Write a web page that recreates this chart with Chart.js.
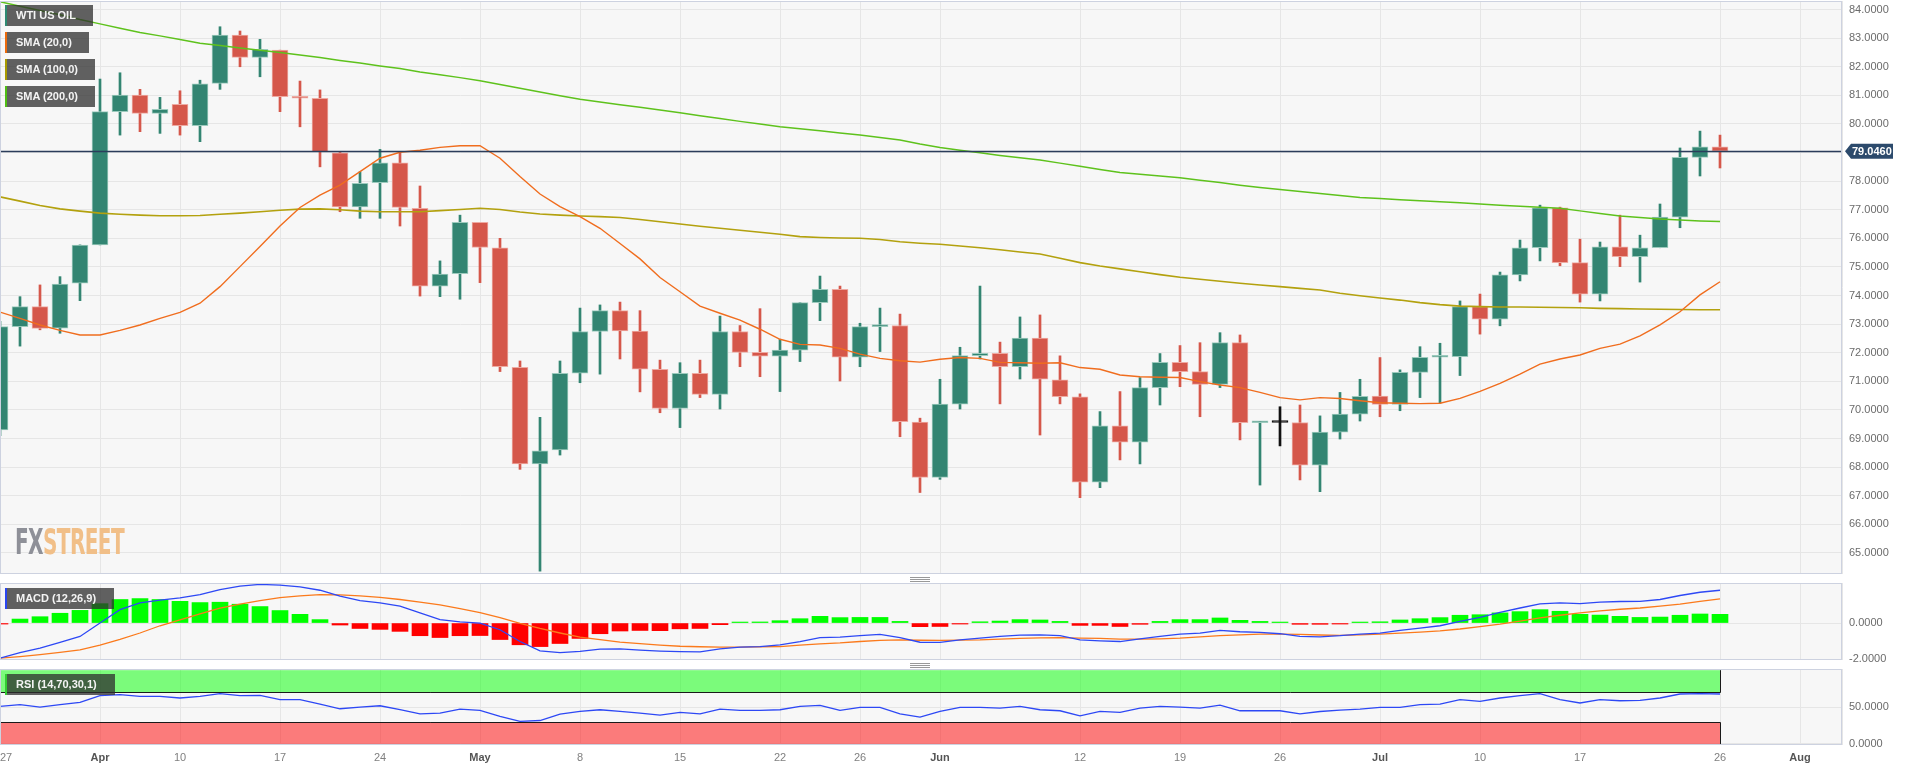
<!DOCTYPE html>
<html>
<head>
<meta charset="utf-8">
<title>WTI US OIL</title>
<script src="https://cdn.jsdelivr.net/npm/chart.js@4.4.1/dist/chart.umd.min.js"></script>
<style>
  html, body { margin:0; padding:0; background:#ffffff; }
  body { width:1918px; height:771px; position:relative; overflow:hidden; font-family:"Liberation Sans", Arial, sans-serif; }
  canvas { position:absolute; left:0; }
  #mainCanvas { top:0; }
  #macdCanvas { top:583px; }
  #rsiCanvas { top:669px; }
  .lbl { position:absolute; left:5px; height:21px; box-sizing:border-box; padding-left:9px; background:rgba(45,45,45,0.75);
         color:#f4f4f4; font-weight:bold; font-size:11px; line-height:21px; white-space:nowrap; border-left:2px solid #888; }
  .handle { position:absolute; left:910px; width:20px; height:3px; border-top:1px solid #999; border-bottom:1px solid #999; }
  .handle::after { content:""; position:absolute; left:0; right:0; top:1px; border-top:1px solid #999; }
  #logo { position:absolute; left:15px; top:524px; font-family:"DejaVu Sans Condensed","DejaVu Sans",sans-serif; font-weight:bold;
          font-size:36px; line-height:36px; white-space:nowrap; transform-origin:0 0; letter-spacing:-1px; }
</style>
</head>
<body>
<canvas id="mainCanvas" width="1918" height="575"></canvas>
<canvas id="macdCanvas" width="1918" height="86"></canvas>
<canvas id="rsiCanvas" width="1918" height="102"></canvas>

<div class="lbl" style="top:5px;width:88px;border-left-color:#2e8a72">WTI US OIL</div>
<div class="lbl" style="top:32px;width:84px;border-left-color:#ec6a0c">SMA (20,0)</div>
<div class="lbl" style="top:59px;width:90px;border-left-color:#a89a00">SMA (100,0)</div>
<div class="lbl" style="top:86px;width:90px;border-left-color:#4fbd14">SMA (200,0)</div>
<div class="lbl" style="top:588px;width:109px;border-left-color:#2a46f0">MACD (12,26,9)</div>
<div class="lbl" style="top:674px;width:110px;border-left-color:#33cc33">RSI (14,70,30,1)</div>
<div class="handle" style="top:577px"></div>
<div class="handle" style="top:663px"></div>
<div id="logo"><span style="color:#8e9098">FX</span><span style="color:#f1bf88">STREET</span></div>

<script>
// ---------------- DATA (trading-day index 0 = Mar 27) ----------------
const open  = [69.30,72.91,73.61,72.86,74.43,75.77,80.43,81.01,80.37,80.69,79.94,81.42,83.11,82.33,82.58,80.97,80.90,78.99,77.10,77.95,
               78.64,77.05,74.33,74.76,76.56,75.67,71.49,68.11,68.60,71.28,72.74,73.47,72.76,71.42,70.05,71.28,70.54,72.74,72.01,71.88,
               72.09,73.75,74.22,71.84,72.91,72.95,69.57,67.64,70.20,71.90,71.98,71.51,72.51,71.05,70.46,67.47,69.44,68.87,70.78,71.66,
               71.34,70.89,72.35,69.55,69.56,69.56,68.07,69.22,69.85,70.48,70.19,71.31,71.84,71.86,73.61,73.17,74.72,75.67,77.07,75.15,
               74.05,75.70,75.36,75.67,76.74,78.83,79.20];
const high  = [73.10,73.96,74.37,74.66,75.77,81.57,81.79,81.21,80.93,81.16,81.53,83.40,83.25,82.96,82.58,81.50,81.19,79.03,78.33,79.11,
               79.03,77.83,75.21,76.81,76.56,76.00,71.71,69.74,71.71,73.56,73.67,73.77,73.47,71.74,71.65,71.74,73.28,72.95,73.54,72.47,
               73.75,74.68,74.33,73.03,73.56,73.35,69.71,71.07,72.19,74.33,72.37,73.25,73.32,71.89,70.56,69.94,70.64,71.13,71.97,72.25,
               72.35,72.70,72.62,69.58,70.11,70.17,69.79,70.61,71.07,71.83,71.40,72.21,72.33,73.81,74.05,74.82,75.94,77.16,77.09,75.97,
               75.87,76.81,76.11,77.20,79.16,79.75,79.61];
const low   = [69.10,72.23,72.80,72.68,73.82,75.77,79.61,79.73,79.67,79.61,79.38,81.21,82.00,81.65,80.43,79.90,78.50,76.93,76.70,76.70,
               76.43,73.98,73.96,73.87,74.45,71.34,67.92,64.36,68.42,70.95,71.25,71.78,70.63,69.90,69.38,70.43,70.03,71.51,71.16,70.64,
               71.69,73.12,71.01,71.51,72.04,69.06,67.11,67.57,70.03,71.78,70.21,71.08,69.12,70.21,66.93,67.28,68.25,68.11,70.17,70.81,
               69.76,70.78,68.95,67.37,68.74,67.55,67.14,68.98,69.61,69.76,69.97,70.43,70.23,71.20,72.65,72.94,74.51,75.21,75.04,73.77,
               73.81,75.01,74.47,75.67,76.37,78.18,78.46];
const close = [72.91,73.61,72.85,74.40,75.76,80.43,81.01,80.37,80.51,79.94,81.40,83.11,82.33,82.61,80.95,80.90,79.03,77.10,77.92,78.64,
               77.08,74.33,74.75,76.56,75.68,71.51,68.11,68.57,71.28,72.74,73.47,72.76,71.42,70.05,71.28,70.54,72.74,72.01,71.88,72.09,
               73.75,74.22,71.84,72.91,72.96,69.59,67.64,70.20,71.90,71.98,71.51,72.51,71.07,70.46,67.47,69.44,68.87,70.78,71.66,71.34,
               70.89,72.35,69.55,69.57,69.56,68.07,69.22,69.85,70.47,70.19,71.31,71.84,71.86,73.61,73.17,74.72,75.67,77.07,75.15,74.05,
               75.70,75.36,75.67,76.74,78.83,79.20,79.046];

const sma20  = [73.42,73.20,72.97,72.78,72.62,72.62,72.78,72.97,73.20,73.41,73.73,74.31,75.01,75.71,76.43,77.08,77.51,77.86,78.33,78.80,
                79.01,79.08,79.18,79.24,79.24,78.80,78.16,77.55,77.11,76.76,76.35,75.82,75.28,74.63,74.13,73.63,73.38,73.14,72.82,72.47,
                72.29,72.27,72.15,71.95,71.80,71.72,71.67,71.77,71.83,71.80,71.66,71.65,71.63,71.65,71.48,71.42,71.22,71.16,71.14,71.13,
                70.99,70.87,70.78,70.61,70.43,70.35,70.43,70.40,70.32,70.25,70.23,70.22,70.23,70.40,70.65,70.93,71.25,71.60,71.78,71.92,
                72.15,72.30,72.59,72.97,73.43,74.02,74.48];
const sma100 = [77.45,77.30,77.15,77.03,76.95,76.88,76.84,76.81,76.79,76.79,76.80,76.84,76.88,76.93,76.98,77.02,77.03,77.00,76.95,76.93,
                76.93,76.93,76.97,77.01,77.05,77.01,76.92,76.85,76.81,76.78,76.76,76.73,76.66,76.58,76.50,76.42,76.35,76.28,76.21,76.14,
                76.06,76.03,76.01,76.00,75.96,75.88,75.83,75.79,75.73,75.67,75.60,75.52,75.45,75.30,75.15,75.03,74.93,74.83,74.73,74.64,
                74.57,74.50,74.43,74.37,74.31,74.25,74.19,74.08,73.99,73.91,73.84,73.75,73.68,73.63,73.61,73.60,73.60,73.59,73.58,73.57,
                73.55,73.54,73.53,73.52,73.51,73.50,73.50];
const sma200 = [84.27,84.12,83.97,83.82,83.65,83.50,83.35,83.20,83.08,82.95,82.82,82.74,82.66,82.58,82.50,82.41,82.32,82.22,82.13,82.03,
                81.94,81.82,81.72,81.62,81.51,81.38,81.25,81.12,80.99,80.86,80.77,80.67,80.58,80.49,80.39,80.29,80.19,80.09,80.00,79.90,
                79.83,79.76,79.68,79.61,79.53,79.44,79.30,79.18,79.08,78.99,78.90,78.82,78.74,78.63,78.52,78.41,78.30,78.24,78.18,78.12,
                78.03,77.95,77.86,77.78,77.71,77.64,77.57,77.50,77.43,77.39,77.35,77.31,77.28,77.24,77.20,77.16,77.12,77.09,77.05,76.96,
                76.87,76.78,76.73,76.68,76.64,76.61,76.59];

const macdLine   = [-1.94,-1.63,-1.39,-1.07,-0.74,0.00,0.74,1.11,1.26,1.39,1.57,1.85,2.04,2.13,2.09,2.00,1.81,1.48,1.24,1.11,
                    0.93,0.56,0.19,0.06,0.00,-0.37,-1.02,-1.54,-1.63,-1.56,-1.44,-1.43,-1.50,-1.55,-1.58,-1.59,-1.43,-1.33,-1.30,-1.20,
                    -1.02,-0.80,-0.78,-0.70,-0.63,-0.80,-1.06,-1.07,-0.93,-0.83,-0.74,-0.67,-0.65,-0.70,-0.93,-0.98,-1.02,-0.87,-0.74,-0.61,
                    -0.56,-0.41,-0.48,-0.52,-0.59,-0.74,-0.76,-0.70,-0.61,-0.56,-0.41,-0.28,-0.15,0.09,0.31,0.59,0.83,1.06,1.11,1.07,
                    1.15,1.19,1.20,1.30,1.52,1.70,1.81];
const signalLine = [-1.94,-1.85,-1.74,-1.62,-1.48,-1.22,-0.90,-0.55,-0.15,0.18,0.50,0.82,1.05,1.24,1.40,1.50,1.57,1.56,1.50,1.42,
                    1.30,1.16,1.00,0.80,0.58,0.30,-0.02,-0.30,-0.55,-0.78,-0.92,-1.05,-1.14,-1.22,-1.28,-1.31,-1.33,-1.33,-1.31,-1.30,
                    -1.22,-1.15,-1.10,-1.02,-0.96,-0.93,-0.95,-0.96,-0.94,-0.93,-0.89,-0.85,-0.82,-0.80,-0.83,-0.85,-0.89,-0.89,-0.87,-0.83,
                    -0.76,-0.70,-0.65,-0.61,-0.61,-0.63,-0.66,-0.68,-0.65,-0.61,-0.56,-0.50,-0.43,-0.33,-0.20,-0.06,0.11,0.28,0.43,0.56,
                    0.67,0.76,0.83,0.93,1.04,1.20,1.33];
const macdHist   = [-0.05,0.22,0.35,0.54,0.70,1.07,1.30,1.35,1.30,1.20,1.13,1.15,1.04,0.91,0.69,0.48,0.19,-0.11,-0.30,-0.35,
                    -0.46,-0.70,-0.80,-0.70,-0.69,-0.91,-1.20,-1.30,-1.13,-0.85,-0.59,-0.44,-0.41,-0.42,-0.32,-0.30,-0.09,0.01,0.06,0.13,
                    0.24,0.37,0.30,0.31,0.31,0.09,-0.20,-0.19,-0.03,0.07,0.11,0.19,0.17,0.09,-0.13,-0.13,-0.19,-0.07,0.09,0.19,
                    0.19,0.28,0.15,0.09,0.04,-0.07,-0.07,-0.03,0.04,0.07,0.17,0.24,0.30,0.43,0.46,0.56,0.63,0.74,0.65,0.48,
                    0.44,0.37,0.31,0.33,0.43,0.50,0.48];
const rsi = [50.9,53.2,50.0,53.2,56.4,65.5,66.8,64.5,64.5,62.3,64.5,68.2,65.5,65.9,60.0,60.0,54.1,47.7,50.0,51.8,
             46.4,40.9,41.8,47.3,45.5,37.3,30.5,31.8,40.5,44.1,46.4,44.1,41.8,39.0,42.7,40.9,47.3,45.5,45.5,46.4,
             50.9,52.3,45.5,49.5,49.5,40.9,36.4,44.1,49.5,49.5,48.6,50.9,46.4,45.0,38.2,44.1,42.7,48.6,50.9,50.0,
             48.6,52.7,45.0,45.0,45.0,40.9,44.0,46.0,47.3,49.5,49.5,53.2,54.1,60.0,57.7,62.3,65.5,68.2,60.0,55.5,
             60.0,58.6,59.1,62.3,67.7,68.2,67.7];

// x axis ticks (trading-day index) and labels
const xTickIdx    = [0, 5, 9, 14, 19, 24, 29, 34, 39, 43, 47, 54, 59, 64, 69, 74, 79, 86, 90];
const xTickLabels = ['27','Apr','10','17','24','May','8','15','22','26','Jun','12','19','26','Jul','10','17','26','Aug'];
const monthLabels = ['Apr','May','Jun','Jul','Aug'];
const priceTicks = [65,66,67,68,69,70,71,72,73,74,75,76,77,78,79,80,81,82,83,84];
const macdTicks  = [0, -2];
const rsiTicks   = [0, 50];
const rsiLevels  = { top: 100, over: 70, under: 30, bottom: 0 };
const lastPrice  = 79.046;

// axis ranges
const xRange     = { min: 0, max: 92.1 };
const priceRange = { min: 64.26, max: 84.30 };
const macdRange  = { min: -2.04, max: 2.21 };
const rsiRange   = { min: -1.4, max: 101.6 };

// ---------------- STYLE ----------------
const FONT = '"Liberation Sans", Arial, sans-serif';
const UP = '#338572', DOWN = '#d5574a', FLAT = '#111111';
const UP_EDGE = '#9ccabd', DOWN_EDGE = '#eeaaa2';
const GRID = '#e6e6e6', FRAME = '#cdd2e0';
Chart.defaults.animation = false;
Chart.defaults.font.family = FONT;

const idx = close.map((_, i) => i);
const dir = i => close[i] > open[i] ? 1 : (close[i] < open[i] ? -1 : 0);
const bodyColor = idx.map(i => dir(i) > 0 ? UP : dir(i) < 0 ? DOWN : FLAT);
const edgeColor = idx.map(i => dir(i) > 0 ? UP_EDGE : dir(i) < 0 ? DOWN_EDGE : FLAT);

const framePlugin = {
  id: 'frame',
  beforeDraw(chart) {
    const a = chart.chartArea, ctx = chart.ctx;
    ctx.save(); ctx.fillStyle = '#f7f7f7';
    ctx.fillRect(a.left, a.top, a.right - a.left, a.bottom - a.top); ctx.restore();
  },
  afterDraw(chart) {
    const a = chart.chartArea, ctx = chart.ctx;
    ctx.save(); ctx.strokeStyle = FRAME; ctx.lineWidth = 1;
    ctx.strokeRect(a.left + 0.5, a.top + 0.5, a.right - a.left - 1, a.bottom - a.top - 1); ctx.restore();
  }
};

function xScale(showLabels) {
  return {
    type: 'linear', min: xRange.min, max: xRange.max, offset: false,
    afterBuildTicks: s => { s.ticks = xTickIdx.concat([xRange.max]).map(v => ({ value: v })); },
    grid: { color: GRID, drawTicks: false, offset: false },
    border: { display: false },
    ticks: showLabels ? {
      autoSkip: false, maxRotation: 0, align: 'inner', padding: 6,
      callback: (v, i) => xTickLabels[i] !== undefined ? xTickLabels[i] : '',
      font: c => ({ size: 11, family: FONT, weight: monthLabels.includes(xTickLabels[c.index]) ? 'bold' : 'normal' }),
      color: c => monthLabels.includes(xTickLabels[c.index]) ? '#555555' : '#808080'
    } : { display: false },
    afterFit: s => { s.height = showLabels ? 26 : 0; s.paddingLeft = 0; s.paddingRight = 0; }
  };
}
function yScale(range, tickList) {
  return {
    type: 'linear', position: 'right', min: range.min, max: range.max,
    afterBuildTicks: s => { s.ticks = tickList.map(v => ({ value: v })); },
    grid: { color: GRID, drawTicks: false },
    border: { display: false },
    ticks: { padding: 7, crossAlign: 'near', color: '#6b6b6b', font: { size: 11, family: FONT },
             callback: v => Number(v).toFixed(4) },
    afterFit: s => { s.width = 76; s.paddingTop = 0; s.paddingBottom = 0; }
  };
}
const baseOpts = (padTop, padBottom) => ({
  responsive: false, devicePixelRatio: 1, events: [],
  layout: { padding: { top: padTop, bottom: padBottom, left: 0, right: 0 } },
  plugins: { legend: { display: false }, tooltip: { enabled: false } }
});

// ---------------- MAIN PRICE CHART ----------------
const pricePlugin = {
  id: 'priceLine',
  afterDatasetsDraw(chart) {
    const { ctx, chartArea: a, scales: { y } } = chart;
    const py = Math.round(y.getPixelForValue(lastPrice)) + 0.5;
    ctx.save(); ctx.strokeStyle = '#2b3d5b'; ctx.lineWidth = 1.5;
    ctx.beginPath(); ctx.moveTo(a.left, py); ctx.lineTo(a.right, py); ctx.stroke(); ctx.restore();
  },
  afterDraw(chart) {
    const { ctx, chartArea: a, scales: { y } } = chart;
    const py = y.getPixelForValue(lastPrice);
    const x0 = a.right + 3, x1 = a.right + 9, x2 = a.right + 51;
    ctx.save(); ctx.fillStyle = '#2c4a6c';
    ctx.beginPath(); ctx.moveTo(x0, py); ctx.lineTo(x1, py - 7.5); ctx.lineTo(x2, py - 7.5);
    ctx.lineTo(x2, py + 7.5); ctx.lineTo(x1, py + 7.5); ctx.closePath(); ctx.fill();
    ctx.fillStyle = '#ffffff'; ctx.font = 'bold 11px ' + FONT; ctx.textBaseline = 'middle'; ctx.textAlign = 'left';
    ctx.fillText(lastPrice.toFixed(4), x1 + 1, py + 0.5); ctx.restore();
  }
};

new Chart(document.getElementById('mainCanvas'), {
  type: 'bar',
  data: { datasets: [
    { type: 'line', label: 'SMA (20,0)', data: idx.map(i => ({ x: i, y: sma20[i] })), borderColor: '#f06d1e',
      borderWidth: 1.4, pointRadius: 0, tension: 0, order: 0 },
    { type: 'line', label: 'SMA (100,0)', data: idx.map(i => ({ x: i, y: sma100[i] })), borderColor: '#b3a10e',
      borderWidth: 1.6, pointRadius: 0, tension: 0, order: 0 },
    { type: 'line', label: 'SMA (200,0)', data: idx.map(i => ({ x: i, y: sma200[i] })), borderColor: '#5ec21c',
      borderWidth: 1.5, pointRadius: 0, tension: 0, order: 0 },
    { type: 'bar', label: 'body', data: idx.map(i => ({ x: i, y: [open[i], close[i]] })), backgroundColor: bodyColor,
      borderColor: edgeColor, borderWidth: 1, borderSkipped: false, barThickness: 16, grouped: false, minBarLength: 2, order: 2 },
    { type: 'bar', label: 'wick', data: idx.map(i => ({ x: i, y: [low[i], high[i]] })), backgroundColor: bodyColor,
      borderWidth: 0, barThickness: 2, grouped: false, order: 3 }
  ] },
  options: Object.assign(baseOpts(1, 1), { scales: { x: xScale(false), y: yScale(priceRange, priceTicks) } }),
  plugins: [framePlugin, pricePlugin]
});

// ---------------- MACD ----------------
new Chart(document.getElementById('macdCanvas'), {
  type: 'bar',
  data: { datasets: [
    { type: 'line', label: 'MACD', data: idx.map(i => ({ x: i, y: macdLine[i] })), borderColor: '#2d48f5',
      borderWidth: 1.3, pointRadius: 0, tension: 0, order: 0 },
    { type: 'line', label: 'Signal', data: idx.map(i => ({ x: i, y: signalLine[i] })), borderColor: '#fb7a1c',
      borderWidth: 1.3, pointRadius: 0, tension: 0, order: 1 },
    { type: 'bar', label: 'Histogram', data: idx.map(i => ({ x: i, y: macdHist[i] })),
      backgroundColor: macdHist.map(v => v >= 0 ? '#00ff00' : '#ff0000'), borderWidth: 0,
      barThickness: 16, grouped: false, minBarLength: 1, order: 2 }
  ] },
  options: Object.assign(baseOpts(0, 9), { scales: { x: xScale(false), y: yScale(macdRange, macdTicks) } }),
  plugins: [framePlugin]
});

// ---------------- RSI ----------------
const rsiBandPlugin = {
  id: 'rsiBands',
  beforeDatasetsDraw(chart) {
    const { ctx, chartArea: a, scales: { x, y } } = chart;
    const xl = a.left, xr = Math.round(x.getPixelForValue(idx[idx.length - 1])) + 0.5;
    const yTop = y.getPixelForValue(rsiLevels.top), yOver = Math.round(y.getPixelForValue(rsiLevels.over)) + 0.5;
    const yUnder = Math.round(y.getPixelForValue(rsiLevels.under)) + 0.5, yBot = y.getPixelForValue(rsiLevels.bottom);
    ctx.save();
    ctx.fillStyle = 'rgba(0,255,0,0.5)'; ctx.fillRect(xl, yTop, xr - xl, yOver - yTop);
    ctx.fillStyle = 'rgba(255,0,0,0.5)'; ctx.fillRect(xl, yUnder, xr - xl, yBot - yUnder);
    ctx.strokeStyle = '#1a1a1a'; ctx.lineWidth = 1;
    ctx.beginPath();
    ctx.moveTo(xl, yOver); ctx.lineTo(xr, yOver); ctx.moveTo(xr, yTop); ctx.lineTo(xr, yOver);
    ctx.moveTo(xl, yUnder); ctx.lineTo(xr, yUnder); ctx.moveTo(xr, yUnder); ctx.lineTo(xr, yBot);
    ctx.stroke(); ctx.restore();
  }
};
new Chart(document.getElementById('rsiCanvas'), {
  type: 'line',
  data: { datasets: [
    { label: 'RSI', data: idx.map(i => ({ x: i, y: rsi[i] })), borderColor: '#2d48f5', borderWidth: 1.3,
      pointRadius: 0, tension: 0 }
  ] },
  options: Object.assign(baseOpts(0, 0), { scales: { x: xScale(true), y: yScale(rsiRange, rsiTicks) } }),
  plugins: [framePlugin, rsiBandPlugin]
});

// logo width fit
(function () {
  const lg = document.getElementById('logo');
  const w = lg.getBoundingClientRect().width;
  if (w > 0) lg.style.transform = 'scaleX(' + (109 / w).toFixed(3) + ')';
})();
</script>
</body>
</html>
